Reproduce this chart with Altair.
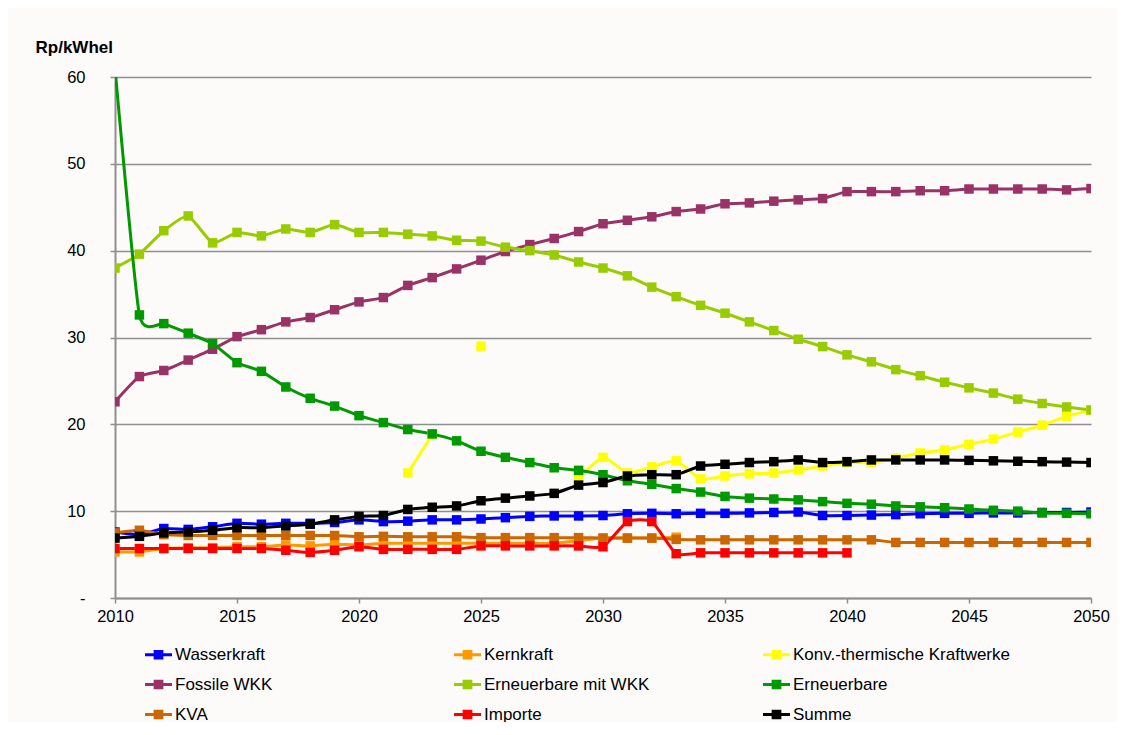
import altair as alt
import pandas as pd

years = list(range(2010, 2051))

series = ["Wasserkraft", "Kernkraft", "Konv.-thermische Kraftwerke",
          "Fossile WKK", "Erneuerbare mit WKK", "Erneuerbare",
          "KVA", "Importe", "Summe"]
colors = ["#0000FF", "#FF9900", "#FFFF00", "#993366", "#99CC00",
          "#009900", "#CC6600", "#FF0000", "#000000"]

N = None
wasserkraft = [7.6, 7.3, 8.0, 7.9, 8.2, 8.6, 8.5, 8.6, 8.6, 8.7,
               9.0, 8.8, 8.85, 9.0, 9.0, 9.1, 9.25, 9.4, 9.45, 9.45,
               9.5, 9.7, 9.75, 9.7, 9.75, 9.75, 9.8, 9.85, 9.9, 9.5,
               9.5, 9.55, 9.6, 9.7, 9.75, 9.75, 9.8, 9.8, 9.85, 9.85, 9.9]
kernkraft = [5.3, 5.3, 5.7, 5.8, 5.8, 5.9, 5.9, 6.1, 6.0, 6.2,
             6.1, 6.3, 6.3, 6.3, 6.3, 6.3, 6.3, 6.3, 6.3, 6.6,
             6.9, 6.9, 6.9, 7.0, N, N, N, N, N, N,
             N, N, N, N, N, N, N, N, N, N, N]
konv = [N, N, N, N, N, N, N, N, N, N,
        N, N, 14.4, 18.8, N, 29.0, N, N, N, 13.8,
        16.2, 14.4, 15.1, 15.8, 13.7, 14.05, 14.3, 14.4, 14.75, 15.2,
        15.6, 15.6, 16.1, 16.7, 17.05, 17.7, 18.3, 19.1, 19.9, 20.9, 21.65]
fossile = [22.6, 25.5, 26.2, 27.4, 28.65, 30.1, 30.9, 31.8, 32.3, 33.2,
           34.1, 34.6, 36.0, 36.9, 37.9, 38.9, 39.9, 40.7, 41.4, 42.2,
           43.1, 43.5, 43.9, 44.5, 44.8, 45.4, 45.5, 45.7, 45.85, 46.0,
           46.8, 46.8, 46.8, 46.9, 46.9, 47.1, 47.1, 47.1, 47.1, 47.0, 47.15]
ern_wkk = [38.0, 39.6, 42.3, 44.0, 40.9, 42.1, 41.7, 42.5, 42.1, 43.0,
           42.1, 42.1, 41.9, 41.7, 41.2, 41.1, 40.4, 40.0, 39.5, 38.7,
           38.0, 37.1, 35.8, 34.7, 33.7, 32.8, 31.8, 30.8, 29.8, 28.95,
           28.0, 27.2, 26.3, 25.6, 24.85, 24.2, 23.6, 22.9, 22.4, 22.0, 21.65]
erneuerbare = [61.0, 32.6, 31.6, 30.5, 29.3, 27.1, 26.1, 24.3, 23.0, 22.1,
               21.0, 20.2, 19.4, 18.9, 18.1, 16.9, 16.2, 15.6, 15.0, 14.7,
               14.2, 13.5, 13.1, 12.6, 12.2, 11.7, 11.5, 11.4, 11.3, 11.1,
               10.9, 10.8, 10.6, 10.5, 10.4, 10.25, 10.1, 10.0, 9.8, 9.75, 9.7]
kva = [7.5, 7.8, 7.3, 7.2, 7.2, 7.2, 7.2, 7.2, 7.2, 7.2,
       7.05, 7.1, 7.05, 7.05, 7.05, 6.95, 6.95, 6.95, 6.95, 6.95,
       6.9, 6.9, 6.9, 6.75, 6.7, 6.7, 6.7, 6.7, 6.7, 6.7,
       6.7, 6.7, 6.4, 6.4, 6.4, 6.4, 6.4, 6.4, 6.4, 6.4, 6.4]
importe = [5.7, 5.7, 5.7, 5.7, 5.7, 5.7, 5.7, 5.5, 5.25, 5.5,
           5.9, 5.6, 5.6, 5.6, 5.6, 6.0, 6.0, 6.0, 6.0, 6.0,
           5.9, 8.8, 8.8, 5.1, 5.2, 5.2, 5.2, 5.2, 5.2, 5.2,
           5.2, N, N, N, N, N, N, N, N, N, N]
summe = [6.9, 7.1, 7.5, 7.6, 7.8, 8.1, 8.1, 8.3, 8.5, 9.0,
         9.4, 9.5, 10.2, 10.45, 10.6, 11.2, 11.5, 11.75, 12.05, 13.0,
         13.3, 14.05, 14.2, 14.2, 15.2, 15.4, 15.6, 15.7, 15.9, 15.6,
         15.7, 15.9, 15.9, 15.9, 15.9, 15.85, 15.8, 15.75, 15.7, 15.65, 15.6]

values = [wasserkraft, kernkraft, konv, fossile, ern_wkk, erneuerbare,
          kva, importe, summe]

rows = []
for si, (name, vals) in enumerate(zip(series, values)):
    seg = 0
    prev_none = True
    for yr, v in zip(years, vals):
        if v is None:
            prev_none = True
            continue
        if prev_none:
            seg += 1
            prev_none = False
        rows.append({"Jahr": yr, "Wert": v, "Serie": name,
                     "Seg": f"{si}-{seg}", "Ord": si})
df = pd.DataFrame(rows)

FONT = "Liberation Sans"
GRAY = "#8f8f8f"

legend_symbol = ("M-1,-0.12 L1,-0.12 L1,0.12 L-1,0.12 Z "
                 "M-0.36,-0.36 L0.36,-0.36 L0.36,0.36 L-0.36,0.36 Z")

cscale = alt.Scale(domain=series, range=colors)


def make_legend():
    return alt.Legend(
        title=None, orient="none", legendX=30, legendY=564,
        direction="horizontal",
        columns=3, gridAlign="all", columnPadding=62, rowPadding=8,
        symbolType=legend_symbol, symbolSize=729, symbolStrokeWidth=0,
        symbolOpacity=1,
        labelFont=FONT, labelFontSize=17, labelColor="#000000",
        labelOffset=3, labelLimit=400,
    )


x_enc = alt.X("Jahr:Q", scale=alt.Scale(domain=[2010, 2050], nice=False, zero=False),
              axis=alt.Axis(values=list(range(2010, 2051, 5)), format="d", title=None,
                            grid=False, labelFlush=False, tickSize=5, labelPadding=5,
                            labelFont=FONT, labelFontSize=16.5, labelColor="#000000",
                            domainColor=GRAY, domainWidth=2, tickColor=GRAY, tickWidth=1.5))
y_enc = alt.Y("Wert:Q", scale=alt.Scale(domain=[0, 60], nice=False),
              axis=alt.Axis(values=[0, 10, 20, 30, 40, 50, 60],
                            labelExpr="datum.value == 0 ? '-' : datum.label",
                            title="Rp/kWhel", titleAngle=0, titleAlign="left",
                            titleBaseline="middle", titleX=-80, titleY=-30,
                            titleFont=FONT, titleFontSize=17, titleFontWeight="bold",
                            titleColor="#000000",
                            labelFont=FONT, labelFontSize=16.5, labelColor="#000000",
                            labelPadding=25, tickSize=5, tickColor=GRAY, tickWidth=1.5,
                            domainColor=GRAY, domainWidth=2,
                            gridColor=GRAY, gridWidth=1.3))

base = alt.Chart(df)

lines = base.mark_line(strokeWidth=3, interpolate="cardinal", tension=0.5, clip=True).encode(
    x=x_enc, y=y_enc,
    color=alt.Color("Serie:N", scale=cscale, legend=make_legend()),
    detail="Seg:N",
    order=alt.Order("Jahr:Q"),
)

points = base.mark_point(shape="square", size=90, filled=True, opacity=1, clip=True).encode(
    x=x_enc, y=y_enc,
    color=alt.Color("Serie:N", scale=cscale, legend=make_legend()),
)

chart = alt.layer(lines, points).properties(
    width=976, height=521,
    padding={"left": 107, "top": 69, "right": 26, "bottom": 124},
    autosize=alt.AutoSizeParams(type="none"),
).configure(
    background="#FCFBF9",
).configure_view(
    stroke=None,
)

chart.save("out.html", embed_options={"renderer": "svg", "actions": False})
